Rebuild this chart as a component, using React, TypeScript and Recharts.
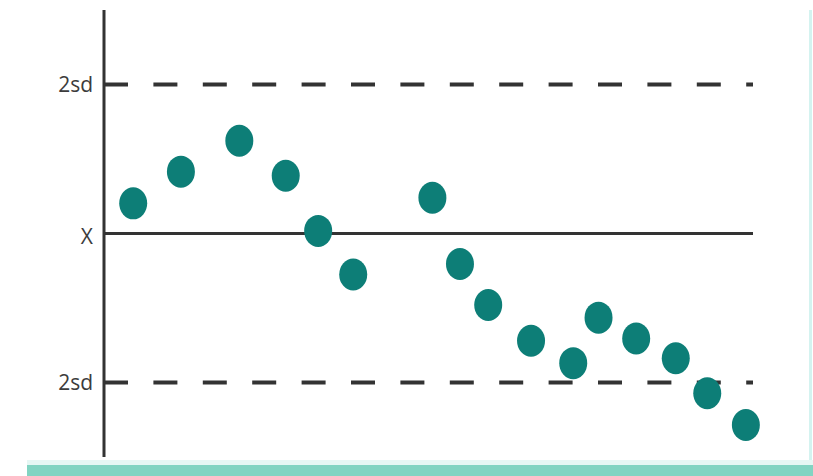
import React from "react";
import { ScatterChart, Scatter, XAxis, YAxis, ReferenceLine } from "recharts";

const pointX = [4.5, 11.85, 20.85, 28.0, 33.0, 38.4, 50.6, 54.85, 59.2, 65.8, 72.3, 76.2, 82.0, 88.1, 92.95, 98.9];
const pointY = [0.405, 0.83, 1.245, 0.775, 0.035, -0.55, 0.48, -0.41, -0.96, -1.44, -1.74, -1.13, -1.41, -1.675, -2.145, -2.57];
const yTicks = [-2, 0, 2];
const yTickLabels = ["2sd", "X", "2sd"];
const meanValue = 0;
const sdLimits = [2, -2];

const data = pointX.map((x, i) => ({ x, y: pointY[i] }));

const DOT = "#0d7e77";
const INK = "#333333";

const Dot = (props: any) => {
  const { cx, cy } = props;
  if (cx == null || cy == null) return null;
  return <ellipse cx={cx} cy={cy} rx={14} ry={16} fill={DOT} />;
};

const Tick = (props: any) => {
  const { x, y, payload } = props;
  const idx = yTicks.indexOf(payload.value);
  const label = idx >= 0 ? yTickLabels[idx] : "";
  return (
    <text
      x={x}
      y={y}
      dy={label === "X" ? "0.5em" : "0.355em"}
      textAnchor="end"
      fill="#3c3c3c"
      fontSize={21}
      fontFamily="'Open Sans', sans-serif"
    >
      {label}
    </text>
  );
};

export default function App() {
  return (
    <div style={{ position: "absolute", left: 0, top: 0, width: 813, height: 476, background: "#ffffff", overflow: "hidden" }}>
      <div style={{ position: "absolute", left: 809, top: 10, width: 3, height: 455, background: "#d4f3f0" }} />
      <div style={{ position: "absolute", left: 27, top: 460, width: 786, height: 5, background: "#e6f7f4" }} />
      <div style={{ position: "absolute", left: 27, top: 465, width: 786, height: 11, background: "#82d4c2" }} />
      <div style={{ position: "absolute", left: 0, top: 0 }}>
        <ScatterChart width={813} height={476} margin={{ top: 10, right: 60, bottom: 19, left: 0 }}>
          <XAxis type="number" dataKey="x" domain={[0, 100]} hide />
          <YAxis
            type="number"
            dataKey="y"
            domain={[-3, 3]}
            ticks={yTicks}
            width={104}
            tickLine={false}
            tickSize={0}
            tickMargin={11}
            axisLine={{ stroke: INK, strokeWidth: 3 }}
            tick={<Tick />}
          />
          <ReferenceLine y={meanValue} stroke={INK} strokeWidth={3} ifOverflow="extendDomain" />
          {sdLimits.map((v, i) => (
            <ReferenceLine key={i} y={v} stroke={INK} strokeWidth={4} strokeDasharray="24 25.4" />
          ))}
          <Scatter data={data} shape={<Dot />} isAnimationActive={false} />
        </ScatterChart>
      </div>
    </div>
  );
}
